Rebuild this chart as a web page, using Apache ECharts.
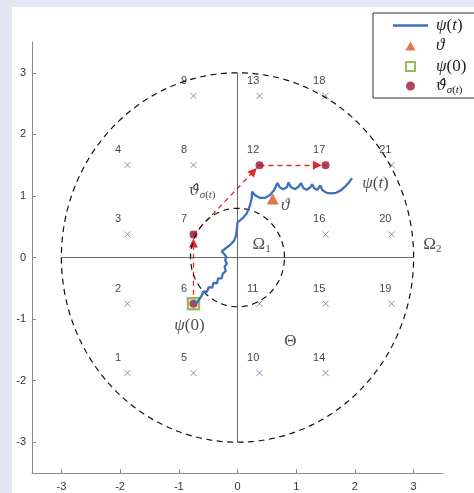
<!DOCTYPE html>
<html>
<head>
<meta charset="utf-8">
<script src="https://cdn.jsdelivr.net/npm/echarts@6/dist/echarts.min.js"></script>
<style>
  html, body { margin: 0; padding: 0; background: #e3e7f3; width: 474px; height: 493px; overflow: hidden; }
  #chart { position: absolute; left: 12px; top: 7px; width: 462px; height: 486px; background: #fff; }
</style>
</head>
<body>
<div id="chart"></div>
<script>
// candidate points, numbered 1..21
const ptX = [-1.875, -1.875, -1.875, -1.875, -0.75, -0.75, -0.75, -0.75, -0.75,
  0.375, 0.375, 0.375, 0.375, 1.5, 1.5, 1.5, 1.5, 1.5, 2.625, 2.625, 2.625];
const ptY = [-1.875, -0.75, 0.375, 1.5, -1.875, -0.75, 0.375, 1.5, 2.625,
  -1.875, -0.75, 1.5, 2.625, -1.875, -0.75, 0.375, 1.5, 2.625, -0.75, 0.375, 1.5];
const ptLabel = ['1', '2', '3', '4', '5', '6', '7', '8', '9', '10', '11', '12', '13',
  '14', '15', '16', '17', '18', '19', '20', '21'];

// visited points (theta hat), by number
const hatIdx = [6, 7, 12, 17];
const psi0 = [-0.75, -0.75];
const theta = [0.6, 0.95];

// trajectory psi(t)
const trajX = [-0.75, -0.68, -0.61, -0.58, -0.52, -0.49, -0.43, -0.41, -0.35, -0.33, -0.27, -0.25,
  -0.20, -0.22, -0.18, -0.21, -0.19, -0.23, -0.27,
  -0.20, -0.12, -0.06, -0.03, -0.01, 0.0,
  0.08, 0.16, 0.21, 0.24, 0.25,
  0.30, 0.38, 0.47, 0.55, 0.62, 0.68,
  0.72, 0.78, 0.84, 0.87, 0.91, 0.98, 1.04, 1.08, 1.12, 1.18, 1.24, 1.27, 1.31, 1.36, 1.41,
  1.45, 1.52, 1.60, 1.68, 1.76, 1.84, 1.90, 1.95];
const trajY = [-0.75, -0.72, -0.62, -0.55, -0.56, -0.48, -0.49, -0.41, -0.42, -0.34, -0.34, -0.26,
  -0.22, -0.15, -0.10, -0.04, 0.01, 0.06, 0.10,
  0.15, 0.21, 0.27, 0.34, 0.45, 0.57,
  0.63, 0.72, 0.84, 0.95, 1.07,
  1.01, 0.97, 0.97, 1.01, 1.09, 1.21,
  1.14, 1.11, 1.14, 1.22, 1.14, 1.11, 1.15, 1.21, 1.13, 1.10, 1.14, 1.19, 1.12, 1.10, 1.17,
  1.09, 1.05, 1.04, 1.05, 1.09, 1.16, 1.22, 1.29];

const rOuter = 3;
const rInner = 0.8;
const tickVals = [-3, -2, -1, 0, 1, 2, 3];

// text annotations
const annX = [0.41, 3.32, 0.9, 0.81, 2.35, -0.6, -0.82];
const annY = [0.21, 0.21, -1.36, 0.84, 1.2, 1.08, -1.1];
const annText = [
  '{r|Ω}{s|1}',
  '{r|Ω}{s|2}',
  '{r|Θ}',
  '{i|ϑ}',
  '{i|ψ}{r|(}{i|t}{r|)}',
  '{h|ϑ\u0302}{si|σ}{s|(}{si|t}{s|)}',
  '{i|ψ}{r|(0)}'
];

const legendText = {
  psi: '{i|ψ}{r|(}{i|t}{r|)}',
  theta: '{i|ϑ}',
  psi0: '{i|ψ}{r|(0)}',
  hat: '{h|ϑ\u0302}{si|σ}{s|(}{si|t}{s|)}'
};

const serif = 'Liberation Serif';
const math = {
  i: { fontFamily: serif, fontStyle: 'italic', fontSize: 17, lineHeight: 20, color: '#222' },
  h: { fontFamily: 'DejaVu Serif', fontStyle: 'italic', fontSize: 15, lineHeight: 20, color: '#222' },
  r: { fontFamily: serif, fontSize: 17, lineHeight: 20, color: '#222' },
  s: { fontFamily: serif, fontSize: 11, lineHeight: 9, verticalAlign: 'bottom', color: '#222' },
  si: { fontFamily: serif, fontStyle: 'italic', fontSize: 11, lineHeight: 9, verticalAlign: 'bottom', color: '#222' }
};

function circle(r) {
  const pts = [];
  for (let i = 0; i <= 200; i++) {
    const a = i / 200 * 2 * Math.PI;
    pts.push([r * Math.cos(a), r * Math.sin(a)]);
  }
  return pts;
}

const pts = ptX.map((x, i) => [x, ptY[i]]);
const hatPts = hatIdx.map(n => pts[n - 1]);
const traj = trajX.map((x, i) => [x, trajY[i]]);

// arrows between visited points, stopped short of the dot
const arrows = [];
for (let k = 0; k < hatPts.length - 1; k++) {
  const a = hatPts[k], b = hatPts[k + 1];
  const dx = b[0] - a[0], dy = b[1] - a[1];
  const len = Math.sqrt(dx * dx + dy * dy);
  const cut = 0.14;
  arrows.push({ coords: [a, [b[0] - dx / len * cut, b[1] - dy / len * cut]] });
}

const myChart = echarts.init(document.getElementById('chart'));
myChart.setOption({
  animation: false,
  grid: { left: 20, right: 31, top: 35, bottom: 20 },
  xAxis: {
    type: 'value', min: -3.5, max: 3.5,
    axisLine: { show: true, onZero: false, lineStyle: { color: '#8a8a8a', width: 1 } },
    axisTick: { show: true, inside: true, length: 4, customValues: tickVals, lineStyle: { color: '#8a8a8a' } },
    axisLabel: { customValues: tickVals, color: '#333', fontSize: 11, fontFamily: 'Liberation Sans', margin: 8 },
    splitLine: { show: false }
  },
  yAxis: {
    type: 'value', min: -3.5, max: 3.5,
    axisLine: { show: true, onZero: false, lineStyle: { color: '#8a8a8a', width: 1 } },
    axisTick: { show: true, inside: true, length: 4, customValues: tickVals, lineStyle: { color: '#8a8a8a' } },
    axisLabel: { customValues: tickVals, color: '#333', fontSize: 11, fontFamily: 'Liberation Sans', margin: 6 },
    splitLine: { show: false }
  },
  legend: {
    orient: 'vertical',
    left: 361, top: 6,
    padding: [4, 30, 2, 20],
    itemWidth: 35, itemHeight: 9, itemGap: 3.5,
    backgroundColor: '#fff', borderColor: '#333', borderWidth: 1,
    data: [
      { name: 'psi', icon: 'path://M0,0L35,0L35,2.4L0,2.4Z' },
      { name: 'theta', icon: 'path://M5,0L10,9L0,9Z' },
      { name: 'psi0', icon: 'path://M0,0L9,0L9,9L0,9Z' },
      { name: 'hat', icon: 'path://M0,4.5a4.5,4.5 0 1,0 9,0a4.5,4.5 0 1,0 -9,0Z' }
    ],
    formatter: name => legendText[name],
    textStyle: { rich: math, padding: [0, 0, 0, 3] }
  },
  series: [
    {
      type: 'line', data: [[-rOuter, 0], [rOuter, 0]], symbol: 'none', silent: true,
      lineStyle: { color: '#444', width: 0.8 }
    },
    {
      type: 'line', data: [[0, -rOuter], [0, rOuter]], symbol: 'none', silent: true,
      lineStyle: { color: '#444', width: 0.8 }
    },
    {
      type: 'line', data: circle(rOuter), symbol: 'none', silent: true,
      lineStyle: { color: '#111', width: 1.2, type: [6, 4.5] }
    },
    {
      type: 'line', data: circle(rInner), symbol: 'none', silent: true,
      lineStyle: { color: '#111', width: 1.2, type: [6, 4.5] }
    },
    {
      type: 'scatter', data: pts, symbol: 'path://M0,0L10,10M10,0L0,10', symbolSize: 6,
      itemStyle: { color: 'none', borderColor: '#8e5fa8', borderWidth: 1 },
      label: {
        show: true, formatter: p => ptLabel[p.dataIndex], position: [-7, -9.5],
        align: 'left', verticalAlign: 'middle',
        color: '#111', fontSize: 11, fontFamily: 'Liberation Sans'
      }
    },
    {
      name: 'psi', type: 'line', data: traj, symbol: 'none',
      lineStyle: { color: '#3f70c0', width: 2.3 }, itemStyle: { color: '#3f70c0' }
    },
    {
      type: 'lines', coordinateSystem: 'cartesian2d', data: arrows,
      symbol: ['none', 'triangle'], symbolSize: 9,
      lineStyle: { color: '#e02b2b', width: 1.3, type: [5, 4], opacity: 1 }
    },
    {
      name: 'psi0', type: 'scatter', data: [psi0], symbol: 'rect', symbolSize: 11,
      itemStyle: { color: '#fff', borderColor: '#77ac30', borderWidth: 2.5 }
    },
    {
      name: 'theta', type: 'scatter', data: [theta], symbol: 'triangle', symbolSize: [12, 11],
      itemStyle: { color: '#d95319' }
    },
    {
      name: 'hat', type: 'scatter', data: hatPts, symbol: 'circle', symbolSize: 8,
      itemStyle: { color: '#a2142f' }
    },
    {
      type: 'scatter', data: annX.map((x, i) => [x, annY[i]]), symbolSize: 0, silent: true,
      itemStyle: { color: 'transparent' },
      label: {
        show: true, position: 'inside', formatter: p => annText[p.dataIndex],
        rich: math
      }
    }
  ]
});

window.addEventListener('resize', () => { myChart.resize(); });
</script>
</body>
</html>
